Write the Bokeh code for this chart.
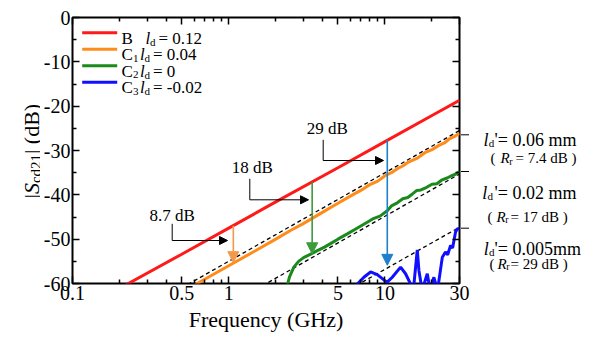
import math
from bokeh.plotting import figure
from bokeh.layouts import row
from bokeh.models import (FixedTicker, LogAxis, LinearAxis, Label, Arrow, NormalHead,
                          Range1d, CustomJSTickFormatter)
from bokeh.embed import file_html
from bokeh.resources import INLINE

FONT = "Liberation Serif"

# ---------------- data ----------------
freq_B = [0.2, 0.5, 1, 2, 5, 10, 20, 30]
level_B = [-61.1, -53.4, -47.5, -41.6, -33.9, -28.0, -22.1, -18.7]

freq_C1 = [0.6, 0.8, 1.0, 1.5, 2.0, 2.5, 3.0, 4.0, 5.0, 6.0, 7.0, 8.0, 9.0, 10, 11,
           12, 13, 14, 16, 18, 20, 22, 24, 26, 28, 30]
level_C1 = [-60.4, -57.9, -56.0, -52.5, -50.0, -48.0, -46.5, -43.9, -41.9, -40.3, -39.0,
            -37.7, -36.9, -35.7, -35.0, -34.1, -33.5, -32.7, -31.8, -30.5, -29.8, -28.9,
            -28.3, -27.3, -26.8, -26.1]

freq_C2 = [2.3, 2.45, 2.61, 2.8, 3.03, 3.3, 3.69, 4.1, 4.48, 5.0, 5.74, 6.5, 7.7, 8.5,
           9.3, 10.34, 11.0, 12.0, 13.0, 14.0, 15.0, 16.0, 17.0, 18.5, 20.0, 21.5, 23.0,
           25.0, 27.0, 28.5, 30.0]
level_C2 = [-62.0, -58.5, -56.3, -55.0, -54.1, -53.5, -52.6, -51.8, -51.0, -50.0, -48.8,
            -47.7, -46.2, -45.3, -44.8, -43.6, -42.5, -41.8, -40.9, -40.6, -39.8, -39.0,
            -38.9, -38.3, -37.6, -37.5, -36.7, -36.2, -35.6, -35.3, -34.7]

freq_C3 = [6.5, 6.65, 7.33, 8.09, 8.93, 9.84, 10.34, 11.14, 12.59, 13.55, 14.58, 15.2,
           16.1, 16.5, 17.3, 18.66, 19.45, 20.56, 21.7, 23.28, 24.4, 25.2, 26.3, 27.1,
           28.3, 29.0, 30.0]
level_C3 = [-61.5, -60.1, -58.6, -57.4, -58.0, -59.2, -59.7, -58.6, -56.3, -57.8, -60.1,
            -61.5, -52.4, -57.1, -61.5, -57.8, -61.5, -58.6, -61.5, -54.1, -52.9, -53.5,
            -51.4, -52.0, -48.4, -47.7, -47.6]

# theoretical (dashed) lines: ld' = 0.06, 0.02, 0.005 mm
freq_T = [0.5, 30]
level_T1 = [-61.0, -25.5]
freq_T2 = [1.5, 30]
level_T2 = [-61.3, -35.3]
freq_T3 = [5, 30]
level_T3 = [-62.8, -47.3]

# difference arrows (B -> C1, C2, C3)
arrow_freq = [1.07, 3.42, 10.35]
arrow_top = [-47.0, -37.1, -27.7]
arrow_bottom = [-55.3, -53.3, -55.9]
arrow_colors = ["#f39a4a", "#3d9a3d", "#1f7fc8"]
diff_labels = ["8.7 dB", "18 dB", "29 dB"]

series_colors = ["#ff1a1a", "#ff8c1a", "#1a8a1a", "#1010ff"]

x_ticks = [0.1, 0.5, 1, 5, 10, 30]
x_tick_labels = ["0.1", "0.5", "1", "5", "10", "30"]
x_minor = [0.2, 0.3, 0.4, 0.6, 0.7, 0.8, 0.9, 2, 3, 4, 6, 7, 8, 9, 20]
y_ticks = [0, -10, -20, -30, -40, -50, -60]
y_tick_labels = ["0", "-10", "-20", "-30", "-40", "-50", "-60"]
y_minor = [-5, -15, -25, -35, -45, -55]

# ---------------- layout (page pixels) ----------------
W, H = 598, 340
LEFT_W = 40            # strip holding the rotated y-axis title
SIDE_X = 470           # right strip holding the ld' / Rr notes starts here
FRAME_L, FRAME_R, FRAME_T, FRAME_B = 72, 459, 17, 283
X_MIN, X_MAX, Y_MIN, Y_MAX = 0.1, 30, -60, 0


def dx(px):
    lo, hi = math.log10(X_MIN), math.log10(X_MAX)
    return 10 ** (lo + (px - FRAME_L) / (FRAME_R - FRAME_L) * (hi - lo))


def dy(py):
    return Y_MAX - (py - FRAME_T) / (FRAME_B - FRAME_T) * (Y_MAX - Y_MIN)


p = figure(width=SIDE_X - LEFT_W, height=H, x_axis_type="log",
           x_range=Range1d(X_MIN, X_MAX), y_range=Range1d(Y_MIN, Y_MAX),
           output_backend="svg", toolbar_location=None,
           min_border_left=FRAME_L - LEFT_W, min_border_right=SIDE_X - FRAME_R,
           min_border_top=FRAME_T, min_border_bottom=H - FRAME_B)
p.background_fill_color = "white"
p.border_fill_color = "white"
p.outline_line_color = "black"
p.outline_line_width = 2
p.xgrid.visible = False
p.ygrid.visible = False

xt = FixedTicker(ticks=x_ticks, minor_ticks=x_minor)
yt = FixedTicker(ticks=y_ticks, minor_ticks=y_minor)

xa = p.below[0]
ya = p.left[0]
xa.ticker = xt
ya.ticker = yt
xa.major_label_overrides = dict(zip(x_ticks, x_tick_labels))
ya.major_label_overrides = dict(zip(y_ticks, y_tick_labels))

top = LogAxis(ticker=xt, formatter=CustomJSTickFormatter(code="return ''"))
right = LinearAxis(ticker=yt, formatter=CustomJSTickFormatter(code="return ''"))
p.add_layout(top, "above")
p.add_layout(right, "right")

for ax in [xa, ya, top, right]:
    ax.axis_line_color = None
    ax.major_tick_in = 7
    ax.major_tick_out = 0
    ax.minor_tick_in = 4
    ax.minor_tick_out = 0
    ax.major_tick_line_color = "black"
    ax.minor_tick_line_color = "black"
    ax.major_tick_line_width = 1.5
    ax.minor_tick_line_width = 1.5
    ax.major_label_text_font = FONT
    ax.major_label_text_font_size = "20px"
    ax.major_label_text_color = "black"
    ax.major_label_standoff = 2
for ax in [top, right]:
    ax.major_label_text_font_size = "0px"
    ax.major_label_standoff = 0

xa.axis_label = "Frequency (GHz)"
xa.axis_label_text_font = FONT
xa.axis_label_text_font_size = "22px"
xa.axis_label_text_font_style = "normal"
xa.axis_label_text_color = "black"
xa.axis_label_standoff = 4

# ---------------- data lines ----------------
for f, l in [(freq_T, level_T1), (freq_T2, level_T2), (freq_T3, level_T3)]:
    p.line(f, l, line_color="black", line_width=1.3, line_dash="4 3")

p.line(freq_B, level_B, line_color=series_colors[0], line_width=3)
p.line(freq_C1, level_C1, line_color=series_colors[1], line_width=3)
p.line(freq_C2, level_C2, line_color=series_colors[2], line_width=3)
p.line(freq_C3, level_C3, line_color=series_colors[3], line_width=3)

for f, t, b, c in zip(arrow_freq, arrow_top, arrow_bottom, arrow_colors):
    p.add_layout(Arrow(x_start=f, y_start=t, x_end=f, y_end=b, line_color=c, line_width=1.6,
                       end=NormalHead(size=11, fill_color=c, line_color=c, line_width=1)))


# ---------------- side strips (pixel-mapped, no axes) ----------------
# In a row Bokeh aligns the plot frames, so each strip's frame spans FRAME_T..FRAME_B.
def strip(x0, x1):
    f = figure(width=x1 - x0, height=H, x_range=Range1d(x0, x1),
               y_range=Range1d(FRAME_B, FRAME_T),
               output_backend="svg", toolbar_location=None, min_border=0,
               x_axis_location=None, y_axis_location=None)
    f.outline_line_color = None
    f.background_fill_color = "white"
    f.border_fill_color = "white"
    f.xgrid.visible = False
    f.ygrid.visible = False
    return f


left_strip = strip(0, LEFT_W)
right_strip = strip(SIDE_X, W)


# ---------------- annotation helpers ----------------
def txt(fig, px, py, s, size, style="normal", align="left", baseline="alphabetic", angle=0):
    if fig is p:
        x, y = dx(px), dy(py)
    else:
        x, y = px, py
    fig.add_layout(Label(x=x, y=y, text=s, text_font=FONT,
                         text_font_size=f"{size}px", text_font_style=style,
                         text_align=align, text_baseline=baseline, angle=angle,
                         text_color="black"))


def seg(x1, y1, x2, y2, color="black", width=1.0, head=False):
    end = NormalHead(size=8, fill_color=color, line_color=color, line_width=1) if head else None
    p.add_layout(Arrow(x_start=dx(x1), y_start=dy(y1), x_end=dx(x2), y_end=dy(y2),
                       line_color=color, line_width=width, end=end))


# difference labels with leaders
lead = [((171.7, 215), 171.7, 223.3, 240, 227.0),
        ((251.7, 166.7), 249.3, 178.3, 199.3, 308.0),
        ((326.7, 128.3), 322.7, 139.3, 160, 383.0)]
for s, ((lx, ly), vx, vy1, vy2, hx) in zip(diff_labels, lead):
    txt(p, lx, ly, s, 17, align="center", baseline="middle")
    seg(vx, vy1, vx, vy2)
    seg(vx, vy2, hx, vy2, head=True)

# legend
legend_names = ["B", "C", "C", "C"]
legend_subs = ["", "1", "2", "3"]
legend_vals = ["= 0.12", "= 0.04", "= 0", "= -0.02"]
rows_y = [32.3, 48.8, 65.3, 81.8]
for name, sub, val, c, ry in zip(legend_names, legend_subs, legend_vals, series_colors, rows_y):
    seg(81.7, ry, 116.7, ry, color=c, width=3)
    base = ry + 5.2
    txt(p, 121, base, name, 17)
    if sub:
        txt(p, 132.6, base + 3.5, sub, 11)
        lx = 139.5
    else:
        lx = 145
    txt(p, lx, base, "l", 17, style="italic")
    txt(p, lx + 4.5, base + 3.5, "d", 11)
    txt(p, lx + 13, base, val, 17)

# right-side pointers to the right axis
seg(481, 134.3, 460.5, 134.3, head=True)
seg(470, 171, 460.5, 171, head=True)
seg(470, 171, 470, 192.7)
seg(470, 192.7, 480, 192.7)
seg(471.5, 227.7, 460.5, 227.7, head=True)
seg(471.5, 227.7, 471.5, 248.3)
seg(471.5, 248.3, 481.5, 248.3)

ld_rows = [(483, 139.3, "'=  0.06  mm"), (481.7, 192.0, "'=  0.02  mm"), (483.3, 248.0, "'= 0.005mm")]
for lx, by, s in ld_rows:
    txt(right_strip, lx, by, "l", 18, style="italic")
    txt(right_strip, lx + 5.3, by + 3.6, "d", 11)
    txt(right_strip, 494, by, s, 18)

rr_rows = [(490, 157.5, 500, 515, "= 7.4 dB )"),
           (487, 216.0, 496, 510, "= 17 dB )"),
           (489, 263.0, 497, 510, "= 29 dB )")]
for px0, by, rx, ex, s in rr_rows:
    txt(right_strip, px0, by, "(", 15)
    txt(right_strip, rx, by, "R", 15, style="italic")
    txt(right_strip, rx + 8.8, by + 3.2, "r", 10)
    txt(right_strip, ex, by, s, 15)

# rotated y-axis title: |S_cd21| (dB)
up = math.pi / 2
txt(left_strip, 31, 198, "|", 22, angle=up)
txt(left_strip, 31, 193.6, "S", 22, style="italic", angle=up)
txt(left_strip, 35, 182.6, "cd21", 15, angle=up)
txt(left_strip, 31, 153.6, "| (dB)", 22, angle=up)

layout = row(left_strip, p, right_strip)
open("out.html", "w").write(file_html(layout, INLINE))
